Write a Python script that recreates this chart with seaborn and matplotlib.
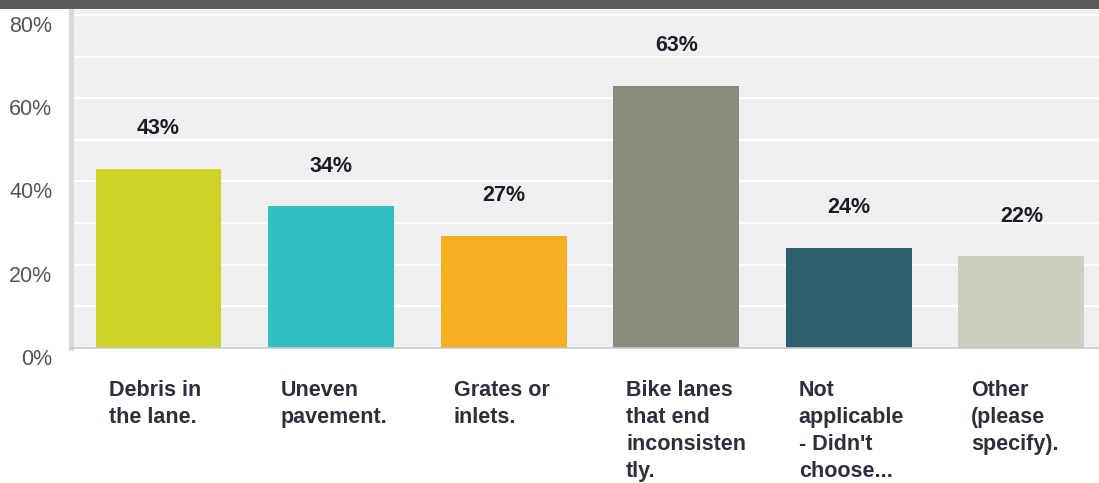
import matplotlib
matplotlib.use("Agg")
import matplotlib.pyplot as plt
from matplotlib.patches import Rectangle
from matplotlib.transforms import ScaledTranslation
import seaborn as sns
import pandas as pd

# Survey answers and share of respondents (%)
categories = [
    "Debris in\nthe lane.",
    "Uneven\npavement.",
    "Grates or\ninlets.",
    "Bike lanes\nthat end\ninconsisten\ntly.",
    "Not\napplicable\n- Didn't\nchoose...",
    "Other\n(please\nspecify).",
]
values = [43, 34, 27, 63, 24, 22]
colors = ["#cdd426", "#33bec0", "#f5ae1f", "#8a8b7a", "#2e5f6c", "#cfcfc1"]
ytick_values = [0, 20, 40, 60, 80]
ytick_labels = ["0%", "20%", "40%", "60%", "80%"]

sns.set_theme(style="white")
plt.rcParams["font.family"] = ["Liberation Sans", "DejaVu Sans"]

df = pd.DataFrame({"category": categories, "value": values})

fig = plt.figure(figsize=(10.99, 4.83), dpi=100)
W, H = 1099, 483
ax = fig.add_axes([70.5 / W, 1 - 348 / H, 1 - 70.5 / W, (348 - 10) / H])
ax.set_facecolor("#efefef")

sns.barplot(data=df, x="category", y="value", hue="category",
            palette=colors, legend=False, width=0.73, saturation=1,
            edgecolor="none", ax=ax)

ax.set_ylim(0, 81.2)
ax.set_xlim(-0.51, 5.45)
ax.set_xlabel("")
ax.set_ylabel("")

# grid every 10 %, labels every 20 %
ax.set_yticks(ytick_values, ytick_labels)
ax.set_yticks([10, 30, 50, 70], minor=True)
ax.yaxis.grid(True, which="both", color="white", linewidth=1.6)
ax.set_axisbelow(True)
ax.tick_params(axis="y", which="both", length=0, pad=13,
               labelsize=15.5, labelcolor="#555555")
shift = ScaledTranslation(0, -9 / 100, fig.dpi_scale_trans)
for lab in ax.get_yticklabels():
    lab.set_transform(lab.get_transform() + shift)

# category labels, left aligned under each bar
ax.tick_params(axis="x", length=0, pad=23, labelsize=15.5,
               labelcolor="#2b303c")
xshift = ScaledTranslation(-50 / 100, 0, fig.dpi_scale_trans)
for lab in ax.get_xticklabels():
    lab.set_horizontalalignment("left")
    lab.set_verticalalignment("top")
    lab.set_fontweight("bold")
    lab.set_linespacing(1.37)
    lab.set_transform(lab.get_transform() + xshift)

for side in ["top", "right"]:
    ax.spines[side].set_visible(False)
ax.spines["left"].set_color("#d9d9d9")
ax.spines["left"].set_linewidth(3.6)
ax.spines["bottom"].set_color("#c8c8c8")
ax.spines["bottom"].set_linewidth(1.2)

# value labels above bars
for i, v in enumerate(values):
    ax.annotate(f"{v}%", xy=(i, v), xytext=(0, 29), textcoords="offset points",
                ha="center", va="center", fontsize=15.5, fontweight="bold",
                color="#1b1c28")

# dark band across the top
fig.patches.append(Rectangle((0, 1 - 9 / H), 1, 9 / H, transform=fig.transFigure,
                             facecolor="#5a5a5a", edgecolor="none", zorder=5))

fig.savefig("out.png", dpi=100, facecolor="white")
